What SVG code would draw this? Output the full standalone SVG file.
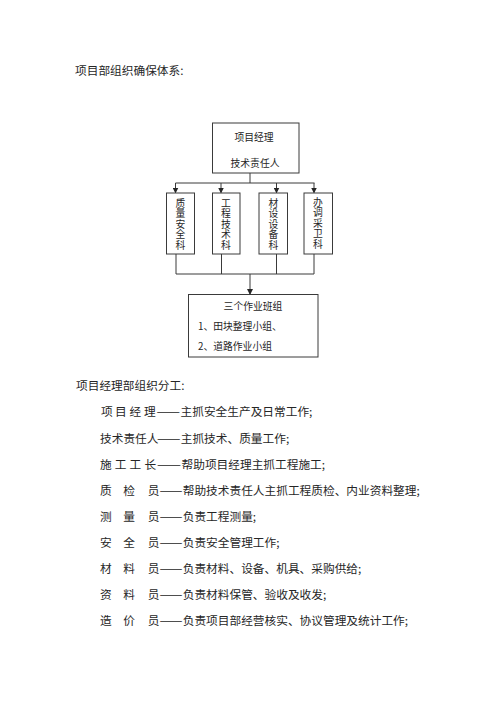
<svg xmlns="http://www.w3.org/2000/svg" width="500" height="706" viewBox="0 0 500 706">
<style>
  .bg{fill:#ffffff}
  .box{fill:#ffffff;stroke:#3a3a3a;stroke-width:1}
  .ln{fill:none;stroke:#3a3a3a;stroke-width:1}
  .t{font-family:"Noto Sans CJK SC","Liberation Sans",sans-serif;font-size:11.7px;fill:#262626}
  .s{font-family:"Noto Sans CJK SC","Liberation Sans",sans-serif;font-size:9.8px;fill:#262626}
  .v{font-family:"Noto Sans CJK SC","Liberation Sans",sans-serif;font-size:9.8px;fill:#262626;writing-mode:vertical-rl;letter-spacing:0.7px}
  .c{text-anchor:middle}
</style>
<defs>
  <marker id="ah" markerWidth="6" markerHeight="6" refX="5" refY="3" orient="auto" markerUnits="userSpaceOnUse">
    <path d="M0,0 L6,3 L0,6 Z" fill="#262626"/>
  </marker>
</defs>
<rect class="bg" x="0" y="0" width="500" height="706"/>

<text class="t" x="75" y="75">项目部组织确保体系:</text>

<g id="connectors">
  <line class="ln" x1="250" y1="173" x2="250" y2="183"/>
  <line class="ln" x1="175.5" y1="183" x2="314.5" y2="183"/>
  <line class="ln" x1="175.5" y1="183" x2="175.5" y2="192.5" marker-end="url(#ah)"/>
  <line class="ln" x1="221" y1="183" x2="221" y2="192.5" marker-end="url(#ah)"/>
  <line class="ln" x1="276.5" y1="183" x2="276.5" y2="192.5" marker-end="url(#ah)"/>
  <line class="ln" x1="314" y1="183" x2="314" y2="192.5" marker-end="url(#ah)"/>
  <line class="ln" x1="176" y1="254" x2="176" y2="274"/>
  <line class="ln" x1="221.5" y1="254" x2="221.5" y2="274"/>
  <line class="ln" x1="276.5" y1="254" x2="276.5" y2="274"/>
  <line class="ln" x1="314" y1="254" x2="314" y2="274"/>
  <line class="ln" x1="176" y1="274" x2="314" y2="274"/>
  <line class="ln" x1="250" y1="274" x2="250" y2="294" marker-end="url(#ah)"/>
</g>

<g id="top">
  <rect class="box" x="212.5" y="123" width="86.5" height="50"/>
  <text class="s c" x="254" y="140.5">项目经理</text>
  <text class="s c" x="255" y="167">技术责任人</text>
</g>

<g id="n1">
  <rect class="box" x="166.5" y="193" width="28" height="61"/>
  <text class="v" x="180.5" y="198">质量安全科</text>
</g>
<g id="n2">
  <rect class="box" x="212.5" y="193" width="27.5" height="61"/>
  <text class="v" x="226" y="198">工程技术科</text>
</g>
<g id="n3">
  <rect class="box" x="259" y="193" width="28.5" height="61"/>
  <text class="v" x="273.5" y="198">材设设备科</text>
</g>
<g id="n4">
  <rect class="box" x="304" y="193" width="28.5" height="61"/>
  <text class="v" x="318" y="197">办调采卫科</text>
</g>

<g id="bottom">
  <rect class="box" x="188.5" y="294.5" width="129.5" height="62.5"/>
  <text class="s c" x="253" y="310">三个作业班组</text>
  <text class="s" x="198" y="330">1、田块整理小组、</text>
  <text class="s" x="198" y="350">2、道路作业小组</text>
</g>

<text class="t" x="76" y="390">项目经理部组织分工:</text>

<g id="duties">
  <text class="t"><tspan x="101" y="416">项</tspan><tspan x="115">目</tspan><tspan x="129.5">经</tspan><tspan x="144">理</tspan></text>
  <text class="t" x="156.5" y="416" textLength="23.5" lengthAdjust="spacingAndGlyphs">——</text>
  <text class="t" x="180.5" y="416">主抓安全生产及日常工作;</text>

  <text class="t" x="100" y="443">技术责任人</text>
  <text class="t" x="157" y="443" textLength="23.5" lengthAdjust="spacingAndGlyphs">——</text>
  <text class="t" x="180.7" y="443">主抓技术、质量工作;</text>

  <text class="t"><tspan x="100" y="468.5">施</tspan><tspan x="114.8">工</tspan><tspan x="129.6">工</tspan><tspan x="144.4">长</tspan></text>
  <text class="t" x="157" y="468.5" textLength="24" lengthAdjust="spacingAndGlyphs">——</text>
  <text class="t" x="181.5" y="468.5">帮助项目经理主抓工程施工;</text>

  <text class="t"><tspan x="100" y="494.5">质</tspan><tspan x="123.3">检</tspan><tspan x="147.8">员</tspan></text>
  <text class="t" x="159.5" y="494.5" textLength="23" lengthAdjust="spacingAndGlyphs">——</text>
  <text class="t" x="182.7" y="494.5">帮助技术责任人主抓工程质检、内业资料整理;</text>

  <text class="t"><tspan x="100" y="521">测</tspan><tspan x="123.3">量</tspan><tspan x="147.8">员</tspan></text>
  <text class="t" x="159.5" y="521" textLength="23" lengthAdjust="spacingAndGlyphs">——</text>
  <text class="t" x="182.7" y="521">负责工程测量;</text>

  <text class="t"><tspan x="100" y="547">安</tspan><tspan x="123.3">全</tspan><tspan x="147.8">员</tspan></text>
  <text class="t" x="159.5" y="547" textLength="23" lengthAdjust="spacingAndGlyphs">——</text>
  <text class="t" x="182.7" y="547">负责安全管理工作;</text>

  <text class="t"><tspan x="100" y="573">材</tspan><tspan x="123.3">料</tspan><tspan x="147.8">员</tspan></text>
  <text class="t" x="159.5" y="573" textLength="23" lengthAdjust="spacingAndGlyphs">——</text>
  <text class="t" x="182.7" y="573">负责材料、设备、机具、采购供给;</text>

  <text class="t"><tspan x="100" y="599">资</tspan><tspan x="123.3">料</tspan><tspan x="147.8">员</tspan></text>
  <text class="t" x="159.5" y="599" textLength="23" lengthAdjust="spacingAndGlyphs">——</text>
  <text class="t" x="182.7" y="599">负责材料保管、验收及收发;</text>

  <text class="t"><tspan x="100" y="625">造</tspan><tspan x="123.3">价</tspan><tspan x="147.8">员</tspan></text>
  <text class="t" x="159.5" y="625" textLength="23" lengthAdjust="spacingAndGlyphs">——</text>
  <text class="t" x="182.7" y="625">负责项目部经营核实、协议管理及统计工作;</text>
</g>
</svg>
